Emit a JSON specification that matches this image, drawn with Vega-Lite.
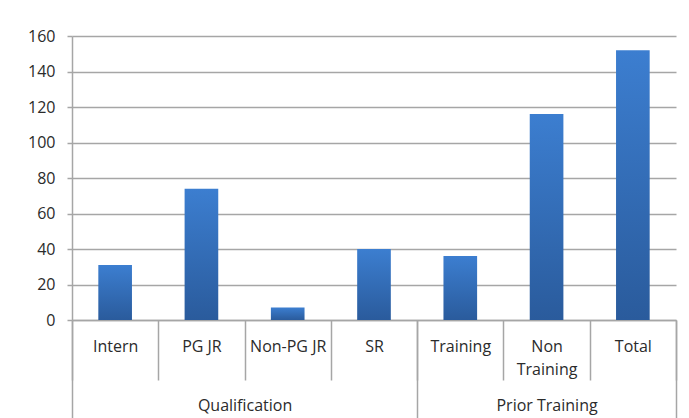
{
  "$schema": "https://vega.github.io/schema/vega-lite/v6.json",
  "autosize": "none",
  "width": 604,
  "height": 284,
  "padding": {"left": 72, "top": 36, "right": 13, "bottom": 98},
  "background": "white",
  "config": {
    "view": {"stroke": null},
    "font": "Open Sans",
    "axis": {"labelFont": "Open Sans", "labelFontSize": 16, "labelColor": "#2b2b2b"},
    "axisY": {
      "title": null,
      "labelOverlap": false, "tickCount": 10,
      "gridColor": "#a6a6a6", "gridWidth": 1.5,
      "tickColor": "#a6a6a6", "tickSize": 5, "tickWidth": 1.5,
      "domainColor": "#a6a6a6", "domainWidth": 1.5,
      "labelPadding": 12
    }
  },
  "layer": [
    {
      "data": {"values": [
        {"category": "Intern", "group": "Qualification", "count": 31},
        {"category": "PG JR", "group": "Qualification", "count": 74},
        {"category": "Non-PG JR", "group": "Qualification", "count": 7},
        {"category": "SR", "group": "Qualification", "count": 40},
        {"category": "Training", "group": "Prior Training", "count": 36},
        {"category": "Non Training", "group": "Prior Training", "count": 116},
        {"category": "Total", "group": "Prior Training", "count": 152}
      ]},
      "mark": {
        "type": "bar",
        "width": {"band": 0.39},
        "color": {
          "gradient": "linear", "x1": 0, "y1": 0, "x2": 0, "y2": 1,
          "stops": [{"offset": 0, "color": "#3c7ed0"}, {"offset": 1, "color": "#2a5b9c"}]
        }
      },
      "encoding": {
        "x": {
          "field": "category", "type": "nominal", "sort": null,
          "scale": {"paddingInner": 0, "paddingOuter": 0},
          "axis": {
            "orient": "bottom", "title": null, "labelAngle": 0,
            "tickBand": "extent", "tickSize": 60, "tickColor": "#a6a6a6", "tickWidth": 1.5,
            "domainColor": "#a6a6a6", "domainWidth": 1.5,
            "labelPadding": -42, "labelBaseline": "top", "labelLineHeight": 23,
            "labelOverlap": false,
            "labelExpr": "datum.value == 'Non Training' ? ['Non', 'Training'] : datum.value"
          }
        },
        "y": {
          "field": "count", "type": "quantitative",
          "scale": {"domain": [0, 160], "nice": false},
          "axis": {"values": [0, 20, 40, 60, 80, 100, 120, 140, 160], "tickCount": 10, "labelOverlap": false, "title": null}
        }
      }
    },
    {
      "data": {"values": [
        {"group": "Qualification", "start": 0, "end": 4},
        {"group": "Prior Training", "start": 4, "end": 7}
      ]},
      "mark": {"type": "rule", "opacity": 0},
      "encoding": {
        "x": {
          "field": "start", "type": "quantitative",
          "scale": {"domain": [0, 7], "nice": false, "zero": true},
          "axis": {
            "orient": "bottom", "title": null, "grid": false, "domain": false,
            "values": [0, 2, 4, 5.5, 7], "tickCount": 10,
            "tickSize": 98, "tickColor": "#a6a6a6", "tickWidth": 1.5,
            "tickOpacity": {"condition": {"test": "datum.value == 2 || datum.value == 5.5", "value": 0}, "value": 1},
            "labelPadding": -21, "labelBaseline": "top", "labelFlush": false, "labelOverlap": false,
            "labelExpr": "datum.value == 2 ? 'Qualification' : datum.value == 5.5 ? 'Prior Training' : ''"
          }
        },
        "x2": {"field": "end"},
        "y": {
          "datum": 0, "type": "quantitative",
          "axis": {"values": [0, 20, 40, 60, 80, 100, 120, 140, 160], "tickCount": 10, "labelOverlap": false, "title": null}
        }
      }
    }
  ],
  "resolve": {"scale": {"x": "independent"}, "axis": {"x": "independent"}}
}
